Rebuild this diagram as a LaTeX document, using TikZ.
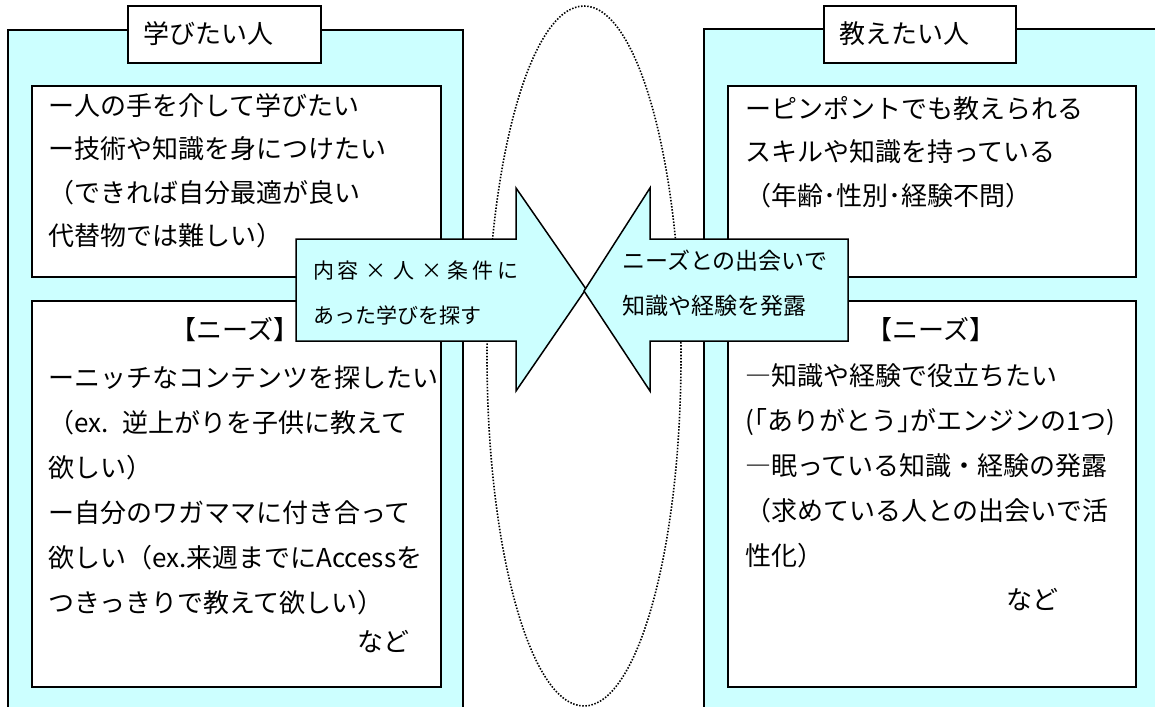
\documentclass[tikz,border=0pt]{standalone}
\usepackage{fontspec}
\setmainfont{Noto Sans CJK JP}
\definecolor{pale}{RGB}{204,255,255}
\newcommand\lineup[1]{\rule{0pt}{#1}}
\tikzset{
  panel/.style={draw=black, fill=pale, line width=1.6pt},
  whitebox/.style={draw=black, fill=white, line width=1.5pt},
  bigarrow/.style={draw=black, fill=pale, line width=1.5pt, line join=miter},
  dotline/.style={draw=black, line width=1.6pt, dash pattern=on 1.5pt off 1.6pt},
  bodytext/.style={font=\fontsize{26pt}{43.4pt}\selectfont, align=left, anchor=north west, inner sep=0pt},
  needtext/.style={font=\fontsize{26pt}{45pt}\selectfont, align=left, anchor=north west, inner sep=0pt},
  oneline/.style={font=\fontsize{26pt}{30pt}\selectfont, inner sep=0pt},
  lefttext/.style={font=\fontsize{21pt}{45pt}\selectfont, align=left, anchor=north west, inner sep=0pt},
  righttext/.style={font=\fontsize{23pt}{45pt}\selectfont, align=left, anchor=north west, inner sep=0pt}
}
\begin{document}
\begin{tikzpicture}[x=1pt,y=-1pt]
\useasboundingbox (0,0) rectangle (1155,706);
\clip (0,0) rectangle (1155,706);
\fill[white] (0,0) rectangle (1155,706);

% dotted ellipse in the middle
\draw[dotline] (584,356) ellipse [x radius=97pt, y radius=350pt];

% left panel
\draw[panel] (8,30) rectangle (463,740);
\draw[whitebox] (128,6) rectangle (321,63);
\node[oneline, anchor=west] (ltitle) at (143,34) {学びたい人};
\draw[whitebox] (32,86) rectangle (441,277);
\draw[whitebox] (32,301) rectangle (441,687);
\node[bodytext] (lbody) at (48,85) {\lineup{30pt}ー人の手を介して学びたい\\ー技術や知識を身につけたい\\（できれば自分最適が良い\\代替物では難しい）};
\node[oneline] (lneedhead) at (235,330) {【ニーズ】};
\node[needtext] (lneeds) at (48,357) {\lineup{30pt}ーニッチなコンテンツを探したい\\（ex.\hspace{14pt}逆上がりを子供に教えて\\欲しい）\\ー自分のワガママに付き合って\\欲しい（ex.来週までにAccessを\\つきっきりで教えて欲しい）};
\node[oneline, anchor=west] (lnado) at (357,642) {など};

% right panel
\draw[panel] (704,29) rectangle (1190,740);
\draw[whitebox] (824,6) rectangle (1016,63);
\node[oneline, anchor=west] (rtitle) at (839,34) {教えたい人};
\draw[whitebox] (728,86) rectangle (1136,277);
\draw[whitebox] (728,301) rectangle (1136,687);
\node[bodytext] (rbody) at (745,88) {\lineup{30pt}ーピンポントでも教えられる\\スキルや知識を持っている\\（年齢･性別･経験不問）};
\node[oneline] (rneedhead) at (931,330) {【ニーズ】};
\node[needtext] (rneeds) at (745,355) {\lineup{30pt}―知識や経験で役立ちたい\\(｢ありがとう｣がエンジンの1つ)\\―眠っている知識・経験の発露\\（求めている人との出会いで活\\性化）};
\node[oneline, anchor=west] (rnado) at (1006,600) {など};

% the two arrows
\draw[bigarrow] (296,239) -- (516,239) -- (516,188) -- (586,289) -- (516,391) -- (516,341) -- (296,341) -- cycle;
\draw[bigarrow] (848,239) -- (650,239) -- (650,188) -- (584,291) -- (650,391) -- (650,341) -- (848,341) -- cycle;
\node[lefttext] (ltext) at (313,250) {\lineup{28pt}内\kern3pt 容\kern7pt ×\kern7pt 人\kern7pt ×\kern5pt 条\kern4pt 件\kern4pt に\\あった学びを探す};
\node[righttext] (rtext) at (622,239) {\lineup{30pt}ニーズとの出会いで\\知識や経験を発露};
\end{tikzpicture}
\end{document}
